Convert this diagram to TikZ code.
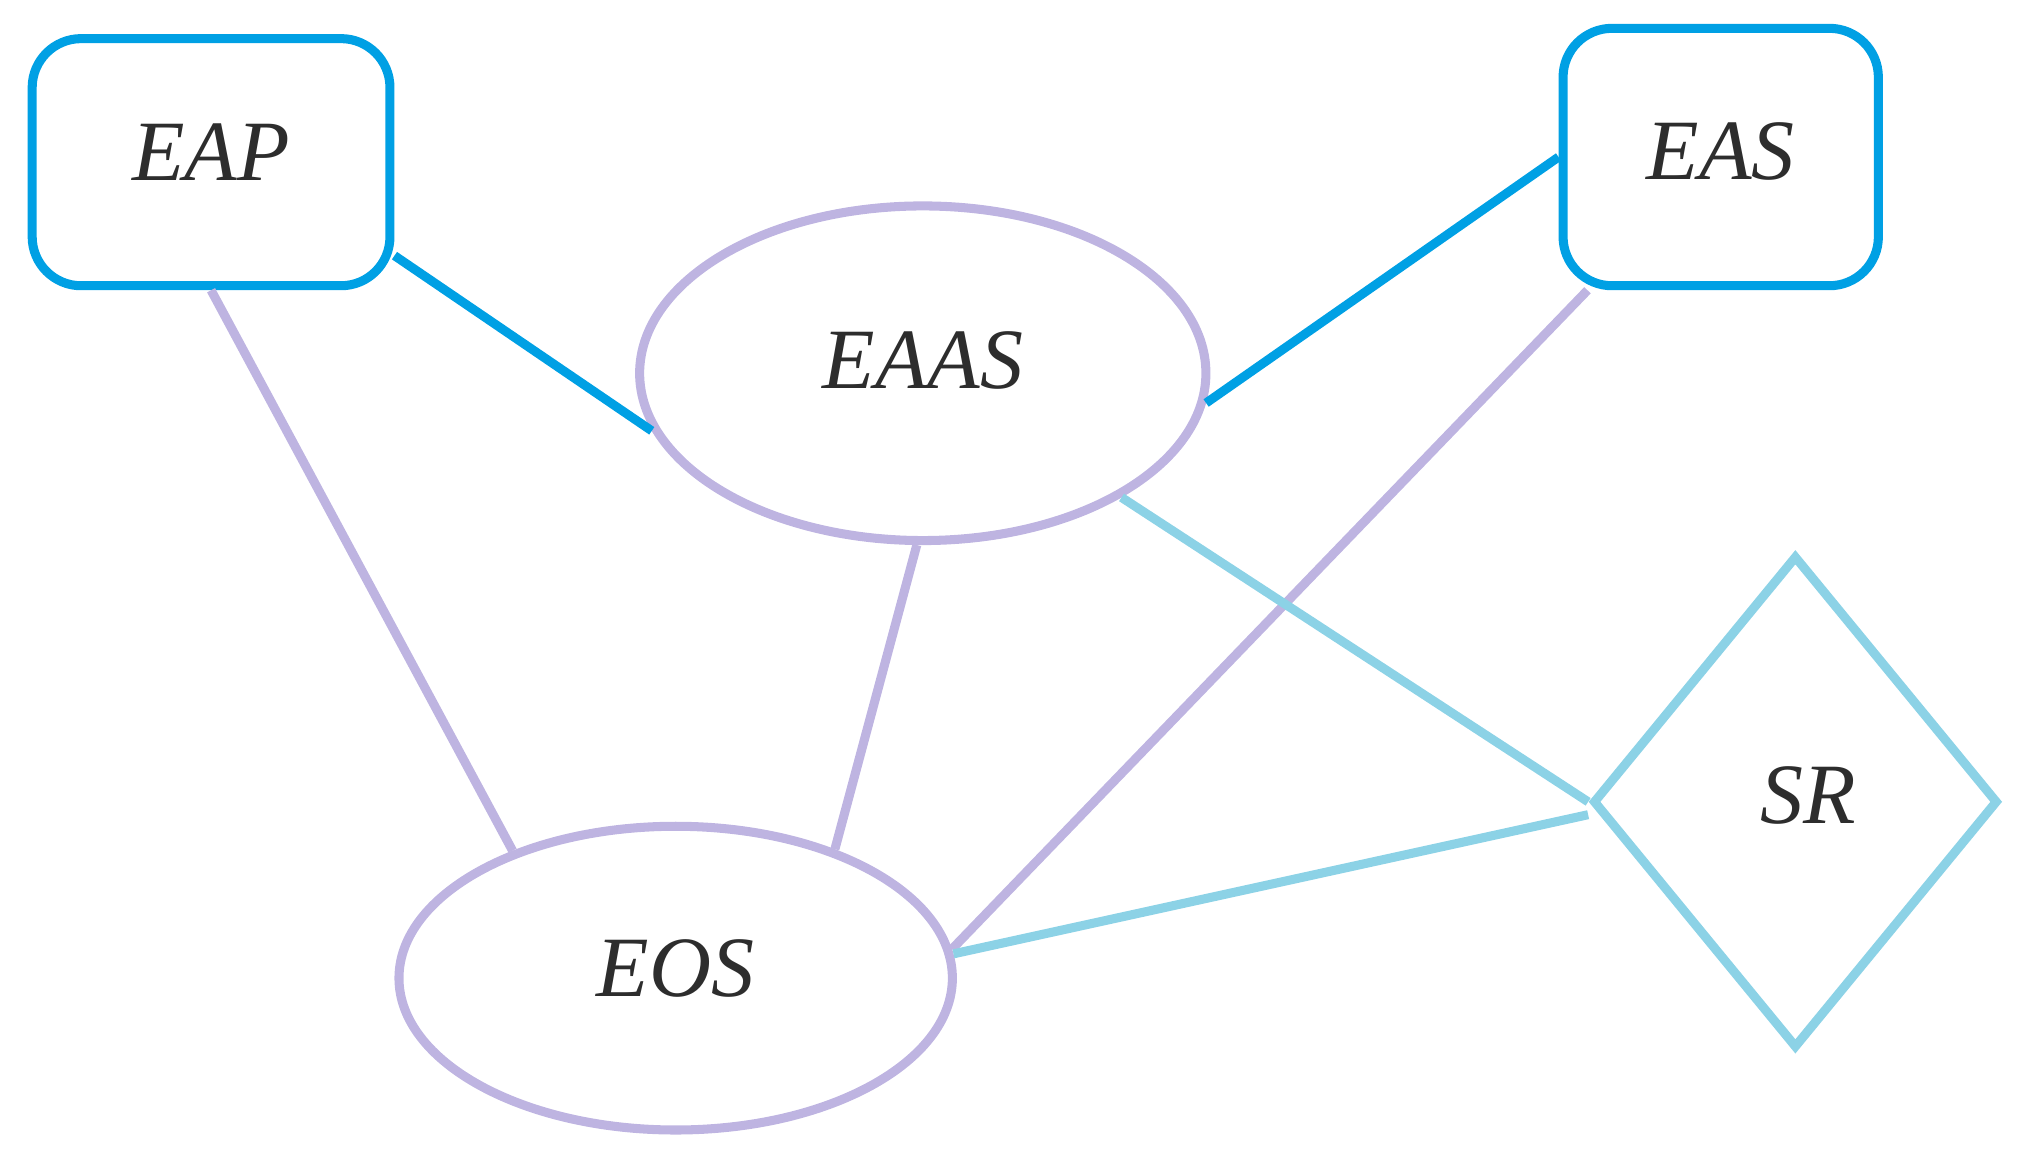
\documentclass[tikz,border=0pt]{standalone}
\usepackage{fontspec}
\setmainfont{Liberation Serif}
\usetikzlibrary{shapes.geometric,calc}
\definecolor{cblue}{RGB}{0,160,228}
\definecolor{clav}{RGB}{190,180,225}
\definecolor{ccyan}{RGB}{140,210,230}
\definecolor{ctext}{RGB}{45,45,45}
\begin{document}
\begin{tikzpicture}[
  lab/.style={font=\fontsize{19}{22}\selectfont\itshape,text=ctext},
  box/.style={draw=cblue,line width=2pt,rounded corners=0.38cm,inner sep=0,lab},
  ell/.style={draw=clav,line width=2pt,ellipse,inner sep=0,lab},
  bl/.style={cblue,line width=2pt},
  lv/.style={clav,line width=2pt},
  cy/.style={ccyan,line width=2pt}]
\useasboundingbox (0,0) rectangle (15.68,-9.0);
\node[box,minimum width=2.78cm,minimum height=1.92cm,text depth=0.15cm] (EAP) at (1.64,-1.26) {EAP\hspace{0.18cm}};
\node[box,minimum width=2.45cm,minimum height=2.0cm,text depth=0.1cm] (EAS) at (13.37,-1.22) {EAS};
\node[ell,minimum width=4.4cm,minimum height=2.6cm,text depth=0.2cm] (EAAS) at (7.17,-2.9) {EAAS\hspace{0.3cm}};
\node[ell,minimum width=4.3cm,minimum height=2.36cm,text depth=0.15cm] (EOS) at (5.25,-7.6) {EOS};
\node[draw=ccyan,line width=2pt,diamond,inner sep=0,minimum width=3.15cm,minimum height=3.83cm,lab,text depth=0.1cm] (SR) at (13.95,-6.23) {\hspace{0.2cm}SR};
\draw[bl] (EAP.333) -- (EAAS.192);
\draw[bl] (EAS.west) -- (EAAS.354);
\draw[lv] (EAP.south) -- (EOS.142);
\draw[lv] (EAAS.268) -- (EOS.39);
\draw[lv] (EAS.225) -- (EOS.6.5);
\draw[cy] (EAAS.328) -- (SR.west);
\draw[cy] (EOS.5) -- ($(SR.west)+(0,-0.1)$);
\end{tikzpicture}
\end{document}
